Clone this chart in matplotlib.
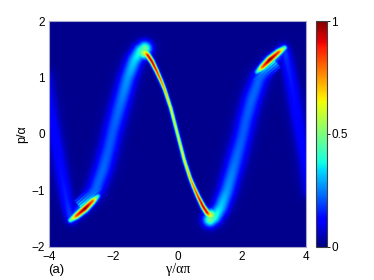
import numpy as np
import matplotlib.pyplot as plt

# ridges (gamma/(alpha pi), p/alpha), peak level, sigma in px
# the picture is point-symmetric about the origin, so only one half is listed

# narrow descending branch, peak -> origin
thin_x = [-1.02, -0.93, -0.80, -0.65, -0.50, -0.40, -0.21, 0.00]
thin_p = [1.45, 1.40, 1.29, 1.12, 0.93, 0.79, 0.46, 0.00]
thin_a = [0.62, 0.90, 0.95, 0.88, 0.78, 0.72, 0.64, 0.60]
thin_s = [3.0, 2.0, 1.7, 1.5, 1.4, 1.3, 1.3, 1.3]

# broad ascending branch, lower-left blob -> peak
wide_x = [-3.30, -2.90, -2.55, -2.32, -2.14, -2.02, -1.80, -1.55, -1.35, -1.15, -1.02]
wide_p = [-1.50, -1.25, -0.98, -0.62, -0.25, 0.05, 0.50, 1.00, 1.30, 1.48, 1.52]
wide_a = [0.18, 0.21, 0.21, 0.21, 0.20, 0.20, 0.22, 0.26, 0.32, 0.40, 0.48]
wide_s = [4.0, 5.0, 6.0, 6.5, 6.5, 6.5, 6.5, 6.0, 5.5, 5.0, 5.0]

# faint branch along the left edge
edge_x = [-4.10, -3.95, -3.80, -3.62, -3.45, -3.35]
edge_p = [1.00, 0.40, -0.10, -0.70, -1.20, -1.45]
edge_a = [0.09, 0.10, 0.11, 0.12, 0.14, 0.17]
edge_s = [5.0, 5.0, 5.0, 5.0, 4.5, 4.0]

# bright blob at the lower-left end
blob_x = [-3.34, -3.15, -2.88, -2.65, -2.48]
blob_p = [-1.53, -1.45, -1.32, -1.19, -1.10]
blob_a = [0.45, 0.85, 1.00, 0.82, 0.35]
blob_s = [2.0, 2.3, 2.5, 2.3, 2.0]

# interference fringes beside the blob: offset (px), level
fringe_off = [4.0, 6.4, 8.8, 11.2]
fringe_a = [0.40, 0.33, 0.26, 0.18]

# glow at the turning point
glow_x, glow_p, glow_a, glow_s = -1.05, 1.44, 0.55, 4.5

ticks_x = [-4, -2, 0, 2, 4]
ticks_p = [-2, -1, 0, 1, 2]
ticks_c = [0, 0.5, 1]

# px per data unit in the reference
SX, SY = 32.1, 56.5
gx = np.linspace(-4, 4, 401)
gp = np.linspace(-2, 2, 301)
GX, GP = np.meshgrid(gx, gp)
PX, PY = GX * SX, GP * SY


def branch(xs, ps, amps, sig):
    out = np.zeros_like(PX)
    for i in range(len(xs) - 1):
        ax, ay = xs[i] * SX, ps[i] * SY
        vx, vy = xs[i + 1] * SX - ax, ps[i + 1] * SY - ay
        t = np.clip(((PX - ax) * vx + (PY - ay) * vy) / (vx * vx + vy * vy), 0, 1)
        d2 = (PX - ax - t * vx) ** 2 + (PY - ay - t * vy) ** 2
        a = amps[i] + t * (amps[i + 1] - amps[i])
        s = sig[i] + t * (sig[i + 1] - sig[i])
        out = np.maximum(out, a * np.exp(-d2 / (2 * s * s)))
    return out


Z = branch(thin_x, thin_p, thin_a, thin_s)
Z = np.maximum(Z, branch(wide_x, wide_p, wide_a, wide_s))
Z = np.maximum(Z, branch(edge_x, edge_p, edge_a, edge_s))
Z = np.maximum(Z, branch(blob_x, blob_p, blob_a, blob_s))

# fringes: lines parallel to the blob, shifted to its upper-left side
bx0, by0 = blob_x[0] * SX, blob_p[0] * SY
bx1, by1 = blob_x[-1] * SX, blob_p[-1] * SY
L = np.hypot(bx1 - bx0, by1 - by0)
ux, uy = (bx1 - bx0) / L, (by1 - by0) / L
nx, ny = -uy, ux
for off, a in zip(fringe_off, fringe_a):
    x0 = (bx0 + ux * 0.45 * L + nx * off) / SX
    y0 = (by0 + uy * 0.45 * L + ny * off) / SY
    x1 = (bx0 + ux * 1.2 * L + nx * off) / SX
    y1 = (by0 + uy * 1.2 * L + ny * off) / SY
    Z = np.maximum(Z, branch([x0, x1], [y0, y1], [a, a * 0.5], [1.0, 1.0]))

d2 = (PX - glow_x * SX) ** 2 + (PY - glow_p * SY) ** 2
Z = np.maximum(Z, glow_a * np.exp(-d2 / (2 * glow_s ** 2)))

# point symmetry gives the other half
Z = np.maximum(Z, Z[::-1, ::-1]) + 0.015

fig = plt.figure(figsize=(3.74, 2.8), dpi=100)
ax = fig.add_axes([0.131, 0.118, 0.687, 0.807])
im = ax.imshow(Z, extent=[-4, 4, -2, 2], origin='lower', aspect='auto',
               cmap='jet', vmin=0, vmax=1, interpolation='bilinear')
ax.set_xticks(ticks_x)
ax.set_yticks(ticks_p)
ax.tick_params(length=0, pad=3, labelsize=8.5)
for lab in ax.get_xticklabels() + ax.get_yticklabels():
    lab.set_fontfamily('Liberation Sans')
for sp in ax.spines.values():
    sp.set_color('#a8a8cc')
    sp.set_linewidth(0.8)

cax = fig.add_axes([0.845, 0.118, 0.029, 0.807])
cb = fig.colorbar(im, cax=cax, ticks=ticks_c)
cb.ax.set_yticklabels(['0', '0.5', '1'], fontfamily='Liberation Sans', fontsize=8.5)
cb.ax.tick_params(length=2, width=0.6, pad=1)
cb.outline.set_linewidth(0.8)
cb.outline.set_edgecolor('#404040')

fig.text(0.059, 0.52, 'p/α', rotation=90, ha='center', va='center',
         fontfamily='Liberation Sans', fontsize=9)
fig.text(0.476, 0.036, 'γ/απ', ha='center', va='center',
         fontfamily='Liberation Serif', fontsize=10)
fig.text(0.15, 0.036, '(a)', ha='center', va='center',
         fontfamily='Liberation Sans', fontsize=9.5)

fig.savefig('out.png', dpi=100)
